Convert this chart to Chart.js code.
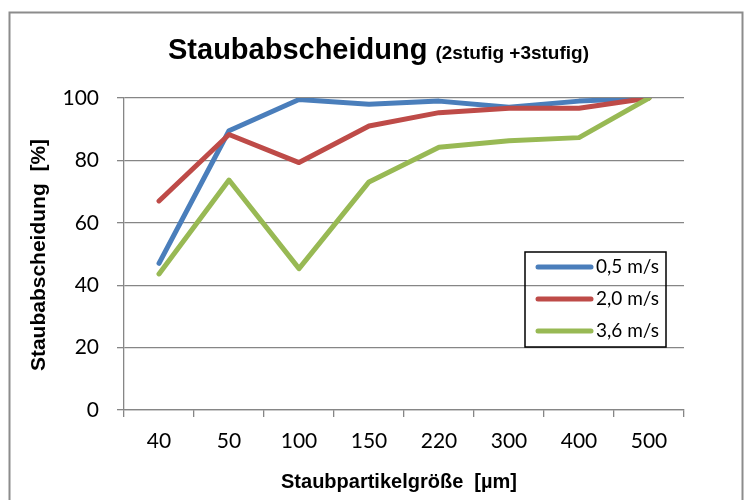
<!DOCTYPE html>
<html>
<head>
<meta charset="utf-8">
<script src="https://cdn.jsdelivr.net/npm/chart.js@4/dist/chart.umd.min.js"></script>
<style>
html,body{margin:0;padding:0;background:#fff;}
#wrap{width:745px;height:500px;position:relative;}
</style>
</head>
<body>
<div id="wrap"><canvas id="c"></canvas></div>
<script>
const categories = ['40','50','100','150','220','300','400','500'];
const seriesNames = ['0,5 m/s','2,0 m/s','3,6 m/s'];
const v05 = [47, 89.5, 99.5, 98, 99, 97, 99, 100];
const v20 = [67, 88.3, 79.3, 91, 95.3, 96.7, 96.7, 100];
const v36 = [43.6, 73.7, 45.3, 73.1, 84.2, 86.3, 87.3, 100];
const yTicks = [0, 20, 40, 60, 80, 100];
const colors = ['#4A7EBB', '#BE4B48', '#98B954'];

const titleMain = 'Staubabscheidung';
const titleSub = '(2stufig +3stufig)';
const xTitle = 'Staubpartikelgröße  [µm]';
const yTitle = 'Staubabscheidung  [%]';

const decor = {
  id: 'decor',
  beforeDraw(chart) {
    const ctx = chart.ctx;
    ctx.save();
    ctx.fillStyle = '#fff';
    ctx.fillRect(0, 0, chart.width, chart.height);
    ctx.strokeStyle = '#8c8c8c';
    ctx.lineWidth = 2;
    ctx.strokeRect(9.5, 12.5, 733, 500);
    ctx.restore();
  },
  afterDraw(chart) {
    const ctx = chart.ctx;
    ctx.save();
    ctx.fillStyle = '#000';
    ctx.textBaseline = 'alphabetic';
    ctx.textAlign = 'left';
    // title
    ctx.font = 'bold 29px "Liberation Sans", Arial, sans-serif';
    ctx.fillText(titleMain, 168, 59);
    const w = ctx.measureText(titleMain).width;
    ctx.font = 'bold 19px "Liberation Sans", Arial, sans-serif';
    ctx.fillText(titleSub, 168 + w + 8, 59);
    // x title
    ctx.textAlign = 'center';
    ctx.font = 'bold 20px "Liberation Sans", Arial, sans-serif';
    ctx.fillText(xTitle, 399, 488);
    // y title
    ctx.save();
    ctx.translate(45, 255);
    ctx.rotate(-Math.PI / 2);
    ctx.font = 'bold 21px "Liberation Sans", Arial, sans-serif';
    ctx.fillText(yTitle, 0, 0);
    ctx.restore();
    // legend
    const lx = 525, ly = 252, lw = 141, lh = 95;
    ctx.strokeStyle = '#000';
    ctx.lineWidth = 1.5;
    ctx.strokeRect(lx, ly, lw, lh);
    ctx.textAlign = 'left';
    ctx.textBaseline = 'middle';
    ctx.font = '19px Lato, "Open Sans", sans-serif';
    chart.data.datasets.forEach((ds, i) => {
      const y = 267 + i * 32;
      ctx.strokeStyle = ds.borderColor;
      ctx.lineWidth = 5;
      ctx.lineCap = 'round';
      ctx.beginPath();
      ctx.moveTo(538, y);
      ctx.lineTo(591, y);
      ctx.stroke();
      ctx.fillStyle = '#000';
      ctx.fillText(ds.label, 596, y);
    });
    ctx.restore();
  }
};

const mk = (label, data, color, order) => ({
  label, data, borderColor: color, backgroundColor: color,
  borderWidth: 5, pointRadius: 0, tension: 0, order,
  borderJoinStyle: 'round', borderCapStyle: 'round', fill: false
});

new Chart(document.getElementById('c'), {
  type: 'line',
  data: {
    labels: categories,
    datasets: [
      mk(seriesNames[0], v05, colors[0], 3),
      mk(seriesNames[1], v20, colors[1], 2),
      mk(seriesNames[2], v36, colors[2], 1)
    ]
  },
  options: {
    responsive: true,
    maintainAspectRatio: false,
    animation: false,
    layout: { padding: { top: 98, right: 61, left: 0, bottom: 0 } },
    plugins: { legend: { display: false }, title: { display: false }, tooltip: { enabled: false } },
    scales: {
      x: {
        type: 'category',
        offset: true,
        grid: { display: true, drawOnChartArea: false, offset: true, color: '#868686', lineWidth: 1.3, tickLength: 7 },
        border: { color: '#868686', width: 1.3 },
        ticks: { color: '#000', font: { family: 'Lato', size: 21 }, padding: 12, maxRotation: 0, autoSkip: false },
        afterFit(s) { s.height = 90; }
      },
      y: {
        min: 0, max: 100,
        afterBuildTicks(s) { s.ticks = yTicks.map(v => ({ value: v })); },
        grid: { color: '#868686', lineWidth: 1.3, tickLength: 7 },
        border: { color: '#868686', width: 1.3 },
        ticks: { color: '#000', font: { family: 'Lato', size: 21 }, padding: 18 },
        afterFit(s) { s.width = 124; }
      }
    }
  },
  plugins: [decor]
});
</script>
</body>
</html>
